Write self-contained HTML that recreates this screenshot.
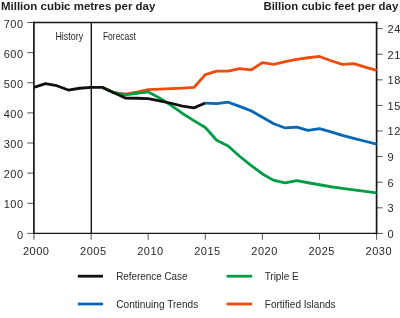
<!DOCTYPE html>
<html><head><meta charset="utf-8">
<style>
html,body{margin:0;padding:0;background:#fff;}
body{width:400px;height:318px;overflow:hidden;position:relative;}
svg{position:absolute;left:0;top:0;will-change:transform;}
text{font-family:"Liberation Sans",sans-serif;}
.ser{fill:none;stroke-width:2.8;stroke-linejoin:round;stroke-linecap:butt;}
</style></head><body>
<svg width="400" height="318" viewBox="0 0 400 318">
<text x="0.99" y="9.9" font-size="10.0" font-weight="bold" fill="#1e1e1e" textLength="154.36" lengthAdjust="spacingAndGlyphs">Million cubic metres per day</text>
<text x="263.45" y="9.9" font-size="10.0" font-weight="bold" fill="#1e1e1e" textLength="134.81" lengthAdjust="spacingAndGlyphs">Billion cubic feet per day</text>
<g stroke="#555" stroke-width="1.0"><line x1="27.3" y1="233.40" x2="34" y2="233.40"/><line x1="27.3" y1="203.27" x2="34" y2="203.27"/><line x1="27.3" y1="173.14" x2="34" y2="173.14"/><line x1="27.3" y1="143.01" x2="34" y2="143.01"/><line x1="27.3" y1="112.89" x2="34" y2="112.89"/><line x1="27.3" y1="82.76" x2="34" y2="82.76"/><line x1="27.3" y1="52.63" x2="34" y2="52.63"/><line x1="27.3" y1="22.50" x2="34" y2="22.50"/><line x1="376.6" y1="233.40" x2="382.8" y2="233.40"/><line x1="376.6" y1="207.81" x2="382.8" y2="207.81"/><line x1="376.6" y1="182.21" x2="382.8" y2="182.21"/><line x1="376.6" y1="156.62" x2="382.8" y2="156.62"/><line x1="376.6" y1="131.02" x2="382.8" y2="131.02"/><line x1="376.6" y1="105.43" x2="382.8" y2="105.43"/><line x1="376.6" y1="79.83" x2="382.8" y2="79.83"/><line x1="376.6" y1="54.24" x2="382.8" y2="54.24"/><line x1="376.6" y1="28.65" x2="382.8" y2="28.65"/><line x1="34.00" y1="233.4" x2="34.00" y2="239.8"/><line x1="91.10" y1="233.4" x2="91.10" y2="239.8"/><line x1="148.20" y1="233.4" x2="148.20" y2="239.8"/><line x1="205.30" y1="233.4" x2="205.30" y2="239.8"/><line x1="262.40" y1="233.4" x2="262.40" y2="239.8"/><line x1="319.50" y1="233.4" x2="319.50" y2="239.8"/><line x1="376.60" y1="233.4" x2="376.60" y2="239.8"/></g>
<g stroke="#161616">
<line x1="33.1" y1="22.5" x2="377.4" y2="22.5" stroke-width="1.4"/>
<line x1="33.1" y1="233.4" x2="377.4" y2="233.4" stroke-width="1.4"/>
<line x1="33.9" y1="21.8" x2="33.9" y2="234.1" stroke-width="1.7"/>
<line x1="376.6" y1="21.8" x2="376.6" y2="234.1" stroke-width="1.7"/>
<line x1="91.3" y1="22.5" x2="91.3" y2="233.4" stroke-width="1.4"/>
</g>
<text x="55.40" y="39.5" font-size="10.2" fill="#282828" textLength="27.88" lengthAdjust="spacingAndGlyphs">History</text>
<text x="102.90" y="39.5" font-size="10.2" fill="#282828" textLength="33.06" lengthAdjust="spacingAndGlyphs">Forecast</text>
<g font-size="11" letter-spacing="0.5" fill="#282828"><text x="23.5" y="238.50" text-anchor="end">0</text><text x="23.5" y="208.37" text-anchor="end">100</text><text x="23.5" y="178.24" text-anchor="end">200</text><text x="23.5" y="148.11" text-anchor="end">300</text><text x="23.5" y="117.99" text-anchor="end">400</text><text x="23.5" y="87.86" text-anchor="end">500</text><text x="23.5" y="57.73" text-anchor="end">600</text><text x="23.5" y="27.60" text-anchor="end">700</text><text x="387.6" y="237.70">0</text><text x="387.6" y="212.11">3</text><text x="387.6" y="186.51">6</text><text x="387.6" y="160.92">9</text><text x="387.6" y="135.32">12</text><text x="387.6" y="109.73">15</text><text x="387.6" y="84.13">18</text><text x="387.6" y="58.54">21</text><text x="387.6" y="32.95">24</text><text x="36.20" y="254.8" text-anchor="middle">2000</text><text x="93.30" y="254.8" text-anchor="middle">2005</text><text x="150.40" y="254.8" text-anchor="middle">2010</text><text x="207.50" y="254.8" text-anchor="middle">2015</text><text x="264.60" y="254.8" text-anchor="middle">2020</text><text x="321.70" y="254.8" text-anchor="middle">2025</text><text x="378.80" y="254.8" text-anchor="middle">2030</text></g>
<polyline class="ser" stroke="#ee4b0c" points="102.52,87.45 113.94,92.70 125.36,94.15 136.78,92.05 148.20,89.65 159.62,89.05 171.04,88.55 182.46,88.05 193.88,87.45 205.30,74.65 216.72,71.05 228.14,71.05 239.56,68.55 250.98,69.95 262.40,62.65 273.82,64.35 285.24,61.55 296.66,59.45 308.08,57.75 319.50,56.45 330.92,60.75 342.34,64.45 353.76,63.55 365.18,67.05 376.60,70.45"/>
<polyline class="ser" stroke="#019c46" points="102.52,87.45 113.94,92.70 125.36,94.75 136.78,93.35 148.20,91.95 159.62,97.95 171.04,105.45 182.46,113.45 193.88,120.65 205.30,127.45 216.72,140.25 228.14,146.05 239.56,156.25 250.98,165.35 262.40,173.95 273.82,180.35 285.24,182.85 296.66,180.65 308.08,182.75 319.50,184.75 330.92,186.75 342.34,188.45 353.76,189.95 365.18,191.45 376.60,192.95"/>
<polyline class="ser" stroke="#0467b5" points="205.30,103.05 216.72,103.55 228.14,102.20 239.56,106.35 250.98,110.75 262.40,117.25 273.82,123.75 285.24,127.95 296.66,127.05 308.08,130.35 319.50,128.65 330.92,131.95 342.34,135.45 353.76,138.45 365.18,141.25 376.60,144.05"/>
<polyline class="ser" stroke="#111111" points="34.00,87.35 45.42,83.55 56.84,85.70 68.26,90.05 79.68,88.25 91.10,87.45 102.52,87.45 113.94,92.70 125.36,98.05 136.78,98.25 148.20,98.65 159.62,100.95 171.04,103.25 182.46,106.05 193.88,107.85 205.30,103.05"/>
<line x1="77.8" y1="276.2" x2="103" y2="276.2" stroke="#111111" stroke-width="2.8"/>
<line x1="77.8" y1="304" x2="103" y2="304" stroke="#0467b5" stroke-width="2.8"/>
<line x1="226.6" y1="276.2" x2="252.2" y2="276.2" stroke="#019c46" stroke-width="2.8"/>
<line x1="226.6" y1="304" x2="252.2" y2="304" stroke="#ee4b0c" stroke-width="2.8"/>
<text x="116.18" y="280" font-size="10.5" fill="#282828" textLength="71.38" lengthAdjust="spacingAndGlyphs">Reference Case</text>
<text x="116.30" y="308" font-size="10.5" fill="#282828" textLength="81.96" lengthAdjust="spacingAndGlyphs">Continuing Trends</text>
<text x="264.63" y="280" font-size="10.5" fill="#282828" textLength="33.97" lengthAdjust="spacingAndGlyphs">Triple E</text>
<text x="264.79" y="308" font-size="10.5" fill="#282828" textLength="70.78" lengthAdjust="spacingAndGlyphs">Fortified Islands</text>
</svg>
</body></html>
